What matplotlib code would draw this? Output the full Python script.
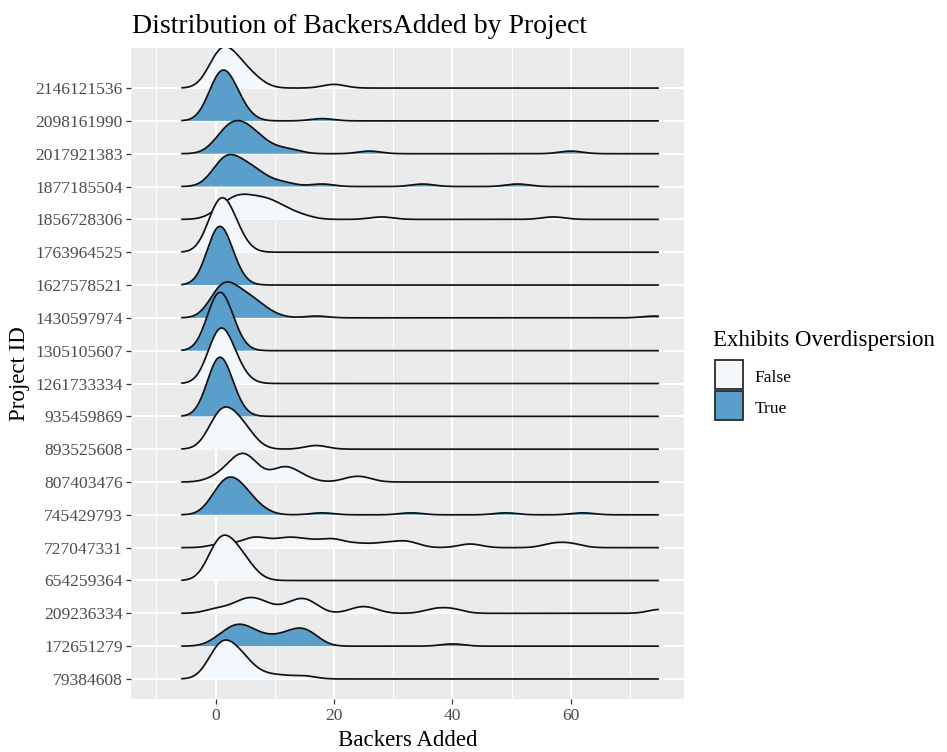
import numpy as np
import matplotlib
matplotlib.use("Agg")
import matplotlib.pyplot as plt
from matplotlib.patches import Rectangle

# ---------------- data (observed Backers Added per project) ----------------
project_ids = ["2146121536", "2098161990", "2017921383", "1877185504", "1856728306",
               "1763964525", "1627578521", "1430597974", "1305105607", "1261733334",
               "935459869", "893525608", "807403476", "745429793", "727047331",
               "654259364", "209236334", "172651279", "79384608"]  # top to bottom
exhibits_overdispersion = [False, True, True, True, False,
                           False, True, True, True, False,
                           True, False, False, True, False,
                           False, False, True, False]

p2146121536 = [0, 0, 0, 0, 1, 1, 1, 2, 2, 2, 3, 3, 4, 4, 5, 6, 7, 20]
p2098161990 = [0, 0, 0, 0, 0, 0, 0, 0, 1, 1, 1, 1, 1, 1, 1, 2, 2, 2, 2, 2, 2,
               3, 3, 3, 3, 4, 4, 5, 18]
p2017921383 = [0, 1, 1, 2, 2, 2, 3, 3, 3, 4, 4, 4, 5, 5, 5, 6, 6, 7, 7, 8, 9,
               11, 13, 26, 60]
p1877185504 = [0, 0, 1, 1, 1, 2, 2, 2, 2, 3, 3, 3, 4, 4, 5, 5, 6, 6, 7, 7, 8,
               10, 12, 18, 35, 51]
p1856728306 = [0, 1, 2, 2, 3, 3, 4, 4, 4, 5, 5, 6, 6, 7, 7, 8, 8, 9, 9, 10, 10,
               11, 12, 13, 15, 28, 57]
p1763964525 = [0, 0, 0, 0, 0, 1, 1, 1, 1, 2, 2, 2, 3, 3, 4]
p1627578521 = [0, 0, 0, 0, 0, 0, 1, 1, 1, 1, 2, 2, 3]
p1430597974 = [0, 0, 0, 0, 0, 1, 1, 1, 1, 1, 1, 2, 2, 2, 2, 2, 3, 3, 3, 3,
               4, 4, 4, 5, 5, 5, 6, 6, 6, 7, 7, 8, 8, 10, 17, 74]
p1305105607 = [0, 0, 0, 0, 0, 0, 0, 1, 1, 1, 1, 2, 2, 2, 3]
p1261733334 = [0, 0, 0, 0, 0, 1, 1, 1, 1, 2, 2, 2, 3, 4]
p935459869 = [0, 0, 0, 0, 0, 0, 1, 1, 1, 1, 1, 2, 2, 3]
p893525608 = [0, 0, 0, 0, 1, 1, 1, 2, 2, 2, 3, 3, 4, 4, 5, 5, 6, 17]
p807403476 = [0, 2, 3, 3, 4, 4, 5, 5, 5, 6, 6, 7, 10, 11, 12, 12, 13, 15, 23, 25]
p745429793 = [0, 0, 0, 0, 1, 1, 1, 1, 2, 2, 2, 2, 2, 3, 3, 3, 3, 3, 4, 4, 4, 4,
              5, 5, 5, 6, 6, 7, 8, 18, 33, 49, 62]
p727047331 = [1, 5, 7, 7, 10, 12, 13, 15, 17, 20, 20, 24, 28, 31, 33, 43, 57, 60]
p654259364 = [0, 0, 0, 0, 1, 1, 1, 2, 2, 3, 3, 4, 4, 5, 6]
p209236334 = [0, 3, 5, 5, 7, 7, 9, 12, 14, 14, 16, 16, 24, 26, 37, 40, 75]
p172651279 = [0, 1, 2, 2, 3, 3, 4, 4, 4, 5, 5, 6, 6, 7, 8, 9, 10, 11, 12, 13, 13,
              14, 14, 15, 15, 16, 16, 17, 40]
p79384608 = [0, 0, 0, 0, 0, 1, 1, 1, 2, 2, 2, 3, 3, 3, 4, 4, 5, 5, 6, 8, 11, 15]

samples = [p2146121536, p2098161990, p2017921383, p1877185504, p1856728306,
           p1763964525, p1627578521, p1430597974, p1305105607, p1261733334,
           p935459869, p893525608, p807403476, p745429793, p727047331,
           p654259364, p209236334, p172651279, p79384608]

x_limits = (-10, 75)
x_breaks = [0, 20, 40, 60]
x_minor = [-10, 10, 30, 50, 70]

# ---------------- settings ----------------
BW = 1.93          # joint bandwidth
RIDGE_SCALE = 1.8  # ridgeline scale
FILL = {False: "#F3F8FD", True: "#5A9FCC"}

plt.rcParams["font.family"] = ["Liberation Serif", "DejaVu Serif"]

W, H = 947, 752
fig = plt.figure(figsize=(W / 100, H / 100), dpi=100)


def fx(p):
    return p / W


def fy(p):
    return 1 - p / H


ax = fig.add_axes([fx(131.4), fy(699), (684 - 131.4) / W, (699 - 48) / H])
ax.set_facecolor("#EBEBEB")
for s in ax.spines.values():
    s.set_visible(False)

# density computation (ggridges style: shared grid, joint bandwidth)
all_vals = np.concatenate([np.asarray(s, float) for s in samples])
grid = np.linspace(all_vals.min() - 3 * BW, all_vals.max() + 3 * BW, 512)
grid = grid[grid <= x_limits[1] + 1e-9]
dens = []
for s in samples:
    v = np.asarray(s, float)
    d = np.exp(-0.5 * ((grid[:, None] - v[None, :]) / BW) ** 2).sum(axis=1)
    d /= (len(v) * BW * np.sqrt(2 * np.pi))
    dens.append(d)
dmax = max(d.max() for d in dens)

n = len(project_ids)
for i, (pid, od, d) in enumerate(zip(project_ids, exhibits_overdispersion, dens)):
    y0 = n - i
    h = d / dmax * RIDGE_SCALE
    z = 2 + i
    ax.fill_between(grid, y0, y0 + h, facecolor=FILL[od], lw=0, zorder=z)
    ax.plot(grid, y0 + h, color="#111111", lw=1.25, zorder=z + 0.5,
            solid_capstyle="butt")

ax.set_xlim(-14.2, 79.1)
ax.set_ylim(0.39, 20.22)
ax.set_xticks(x_breaks)
ax.set_xticklabels([str(b) for b in x_breaks])
ax.set_xticks(x_minor, minor=True)
ax.set_yticks(range(1, n + 1))
ax.set_yticklabels(project_ids[::-1])
ax.set_axisbelow(True)
ax.grid(which="major", color="white", lw=1.4)
ax.grid(which="minor", axis="x", color="white", lw=0.7)
ax.tick_params(which="major", length=3.6, width=0.9, color="#333333",
               labelcolor="#4D4D4D", labelsize=12.6)
ax.tick_params(axis="x", pad=2.9)
ax.tick_params(axis="y", pad=2.6)
ax.tick_params(which="minor", length=0)

# titles
fig.text(fx(131.7), fy(33), "Distribution of BackersAdded by Project",
         fontsize=20, ha="left", va="baseline", color="black")
fig.text(fx(407.7), fy(746), "Backers Added", fontsize=16.5,
         ha="center", va="baseline", color="black")
fig.text(fx(19.5), fy(373.5), "Project ID", fontsize=16.5, rotation=90,
         ha="center", va="center", color="black")

# legend
fig.text(fx(713), fy(345.7), "Exhibits Overdispersion", fontsize=16.5,
         ha="left", va="baseline", color="black")
for lab, top, base in [(False, 359.5, 382.0), (True, 391.0, 412.7)]:
    fig.add_artist(Rectangle((fx(714.5), fy(top + 29)), 28 / W, 29 / H,
                             transform=fig.transFigure, facecolor=FILL[lab],
                             edgecolor="#2b2b2b", lw=1.3))
    fig.text(fx(754.5), fy(base), str(lab), fontsize=12.6, ha="left",
             va="baseline", color="black")

fig.savefig("out.png", dpi=100)
